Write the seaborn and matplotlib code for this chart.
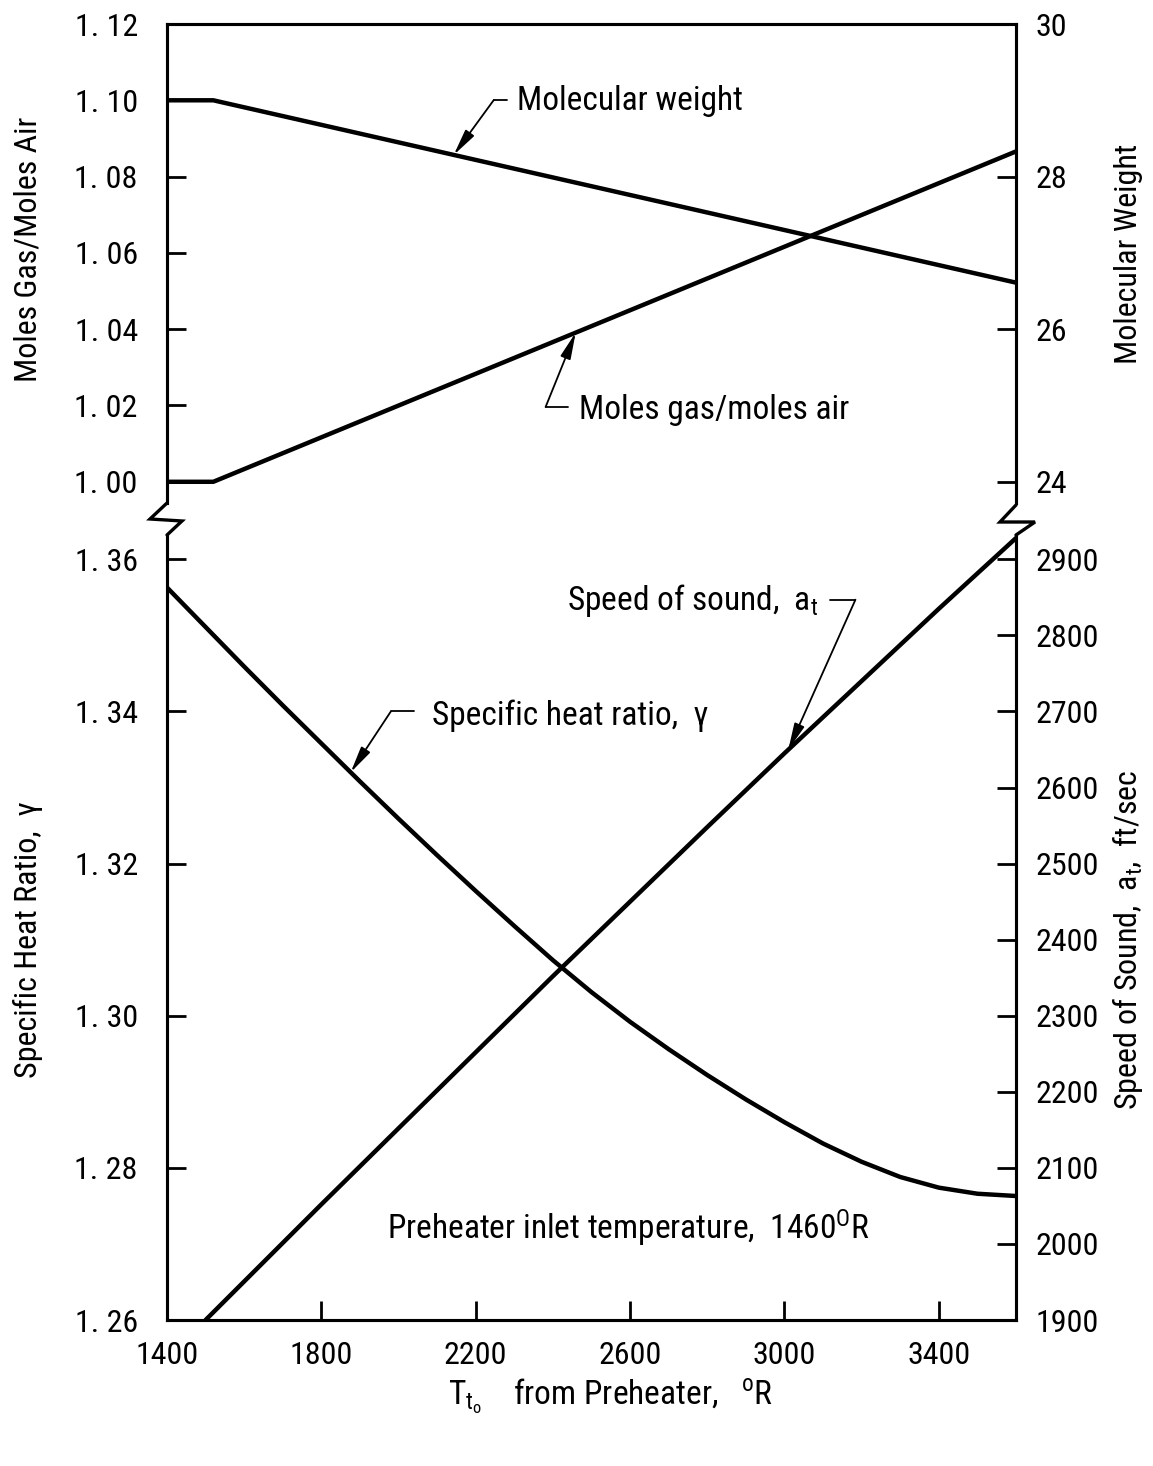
import numpy as np
import matplotlib
matplotlib.use('Agg')
from matplotlib import pyplot as plt
from matplotlib.lines import Line2D
import seaborn as sns

# values
temp_top = [1400, 1520, 3600]
moles_ratio = [1.000, 1.000, 1.0866]
mol_weight = [29.0, 29.0, 26.61]

temp_gamma = [1400, 1500, 1600, 1700, 1800, 1900, 2000, 2100, 2200, 2300, 2400, 2500,
              2600, 2700, 2800, 2900, 3000, 3100, 3200, 3300, 3400, 3500, 3600]
gamma = [1.3563, 1.3511, 1.3459, 1.3408, 1.3358, 1.3308, 1.3259, 1.3211, 1.3164, 1.3118,
         1.3073, 1.3031, 1.2992, 1.2956, 1.2922, 1.2890, 1.2860, 1.2832, 1.2808, 1.2788,
         1.2774, 1.2766, 1.2763]

temp_sound = [1500, 1800, 2000, 2200, 2400, 2600, 2800, 3000, 3200, 3400, 3600]
speed_sound = [1900, 2052, 2152, 2252, 2352, 2450, 2548, 2645, 2740, 2835, 2928]

x_ticks = [1400, 1800, 2200, 2600, 3000, 3400]
moles_ticks = [1.00, 1.02, 1.04, 1.06, 1.08, 1.10, 1.12]
mw_ticks = [24, 26, 28, 30]
gamma_ticks = [1.26, 1.28, 1.30, 1.32, 1.34, 1.36]
sound_ticks = list(range(1900, 3000, 100))

sns.set_style('ticks')
plt.rcParams['font.family'] = ['Liberation Sans Narrow', 'Roboto Condensed', 'Liberation Sans', 'DejaVu Sans']
plt.rcParams['font.stretch'] = 'condensed'
plt.rcParams['mathtext.default'] = 'regular'
plt.rcParams['axes.linewidth'] = 2.2
for key in ('text.color', 'axes.labelcolor', 'xtick.color', 'ytick.color', 'axes.edgecolor'):
    plt.rcParams[key] = 'black'

W, H = 1153, 1466
fig = plt.figure(figsize=(W / 100, H / 100), dpi=100)

def px(x0, y0, x1, y1):
    return [x0 / W, 1 - y1 / H, (x1 - x0) / W, (y1 - y0) / H]

ax_top = fig.add_axes(px(167, 24, 1016, 503))
ax_bot = fig.add_axes(px(167, 535, 1016, 1320))
ax_mw = ax_top.twinx()
ax_snd = ax_bot.twinx()

lw = 3.2
sns.lineplot(x=temp_top, y=moles_ratio, ax=ax_top, color='black', lw=lw)
sns.lineplot(x=temp_top, y=mol_weight, ax=ax_mw, color='black', lw=lw)
sns.lineplot(x=temp_gamma, y=gamma, ax=ax_bot, color='black', lw=lw)
sns.lineplot(x=temp_sound, y=speed_sound, ax=ax_snd, color='black', lw=lw)

fs_tick = 23
fs_label = 23
fs_note = 24
moles_lo = 0.99444
ax_top.set_ylim(moles_lo, 1.12)
ax_mw.set_ylim(24 + (moles_lo - 1.0) * 50, 30)
gamma_hi = 1.3632
ax_bot.set_ylim(1.26, gamma_hi)
ax_snd.set_ylim(1900, 1900 + (gamma_hi - 1.26) * 10000)

for a in (ax_top, ax_bot, ax_mw, ax_snd):
    a.set_xlim(1400, 3600)
    a.tick_params(direction='in', length=14, width=2, labelsize=fs_tick)

ax_top.spines['bottom'].set_visible(False)
ax_mw.spines['bottom'].set_visible(False)
ax_bot.spines['top'].set_visible(False)
ax_snd.spines['top'].set_visible(False)
ax_top.tick_params(axis='x', bottom=False, labelbottom=False)
ax_mw.tick_params(axis='x', bottom=False, labelbottom=False)

ax_top.set_yticks(moles_ticks, [f'{v:.2f}'.replace('.', '. ') for v in moles_ticks])
ax_mw.set_yticks(mw_ticks, [str(v) for v in mw_ticks])
ax_bot.set_yticks(gamma_ticks, [f'{v:.2f}'.replace('.', '. ') for v in gamma_ticks])
ax_snd.set_yticks(sound_ticks, [str(v) for v in sound_ticks])
ax_bot.set_xticks(x_ticks, [str(v) for v in x_ticks])

ax_top.tick_params(axis='y', pad=21)
ax_bot.tick_params(axis='y', pad=21)
ax_mw.tick_params(axis='y', pad=14)
ax_snd.tick_params(axis='y', pad=14)
ax_bot.tick_params(axis='x', pad=15)

ax_top.set_ylabel('Moles Gas/Moles Air', fontsize=fs_label)
ax_top.yaxis.set_label_coords(-0.164, 0.53)
ax_mw.set_ylabel('Molecular Weight', fontsize=fs_label)
ax_mw.yaxis.set_label_coords(1.132, 0.52)
ax_bot.set_ylabel('Specific Heat Ratio,  γ', fontsize=fs_label)
ax_bot.yaxis.set_label_coords(-0.164, 0.484)
ax_snd.set_ylabel('Speed of Sound,  $a_t$,  ft/sec', fontsize=fs_label)
ax_snd.yaxis.set_label_coords(1.132, 0.484)
for a in (ax_top, ax_mw, ax_bot, ax_snd):
    a.yaxis.label.set_rotation_mode('anchor')
    a.yaxis.label.set_va('center')
    a.yaxis.label.set_ha('center')
    a.yaxis.label.set_rotation(90)
ax_top.set_xlabel('')
ax_bot.set_xlabel('$T_{t_o}$    from Preheater,   $^{o}$R', fontsize=fs_note)
ax_bot.xaxis.set_label_coords(0.522, -0.072)

# axis break marks
for pts in ([(167, 503), (150, 519), (182, 521), (167, 535)],
            [(1016, 505), (1000, 522), (1035, 522), (1016, 535)]):
    xs = [p[0] / W for p in pts]
    ys = [1 - p[1] / H for p in pts]
    fig.add_artist(Line2D(xs, ys, transform=fig.transFigure, color='black', lw=2.4,
                          solid_joinstyle='miter'))

# leader labels
arrow = dict(arrowstyle='-|>,head_length=0.8,head_width=0.16', color='black', lw=1.3,
             shrinkA=0, shrinkB=0, mutation_scale=20)

def leader(ax_text, tip_ax, tip_x, tip_y, corner, dash_end, text, text_pos):
    ax_text.annotate('', xy=(tip_x, tip_y), xycoords=tip_ax.transData,
                     xytext=corner, textcoords=ax_text.transData, arrowprops=arrow)
    ax_text.plot([corner[0], dash_end], [corner[1], corner[1]], color='black', lw=1.3)
    ax_text.text(text_pos[0], text_pos[1], text, fontsize=fs_note, va='center', ha='left')

tip = 2143
leader(ax_top, ax_mw, tip, np.interp(tip, temp_top, mol_weight),
       (2247, 1.1001), 2282, 'Molecular weight', (2306, 1.0998))
tip = 2459
leader(ax_top, ax_top, tip, np.interp(tip, temp_top, moles_ratio),
       (2381, 1.0196), 2438, 'Moles gas/moles air', (2467, 1.0188))
tip = 1876
leader(ax_bot, ax_bot, tip, np.interp(tip, temp_gamma, gamma),
       (1980, 1.3400), 2039, 'Specific heat ratio,  γ', (2086, 1.3395))
tip = 3010
leader(ax_bot, ax_snd, tip, np.interp(tip, temp_sound, speed_sound),
       (3184, 1.3547), 3119, 'Speed of sound,  $a_t$', (2436, 1.3546))

ax_bot.text(1970, 1.2722, 'Preheater inlet temperature,  1460$^{O}$R', fontsize=fs_note,
            va='center', ha='left')

fig.savefig('out.png', dpi=100)
